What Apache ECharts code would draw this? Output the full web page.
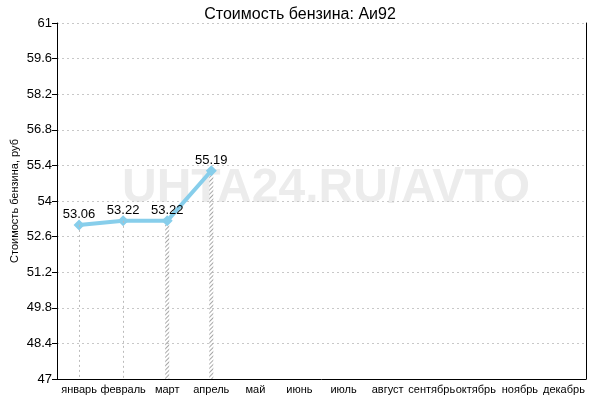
<!DOCTYPE html>
<html><head><meta charset="utf-8">
<script src="https://cdn.jsdelivr.net/npm/echarts@6/dist/echarts.min.js"></script>
<style>html,body{margin:0;padding:0;background:#fff}#c{width:600px;height:400px}</style>
</head><body><div id="c"></div>
<script>
const months = ['январь','февраль','март','апрель','май','июнь','июль','август','сентябрь','октябрь','ноябрь','декабрь'];
const prices = [53.06, 53.22, 53.22, 55.19, null, null, null, null, null, null, null, null];
const dottedDrops = [53.06, 53.22, null, null];      // months with thin dotted drop lines
const hatchedDrops = [null, null, 53.22, 55.19];     // months with hatched drop lines
const yMin = 47, yMax = 61, yStep = 1.4;
const titleText = 'Стоимость бензина: Аи92';
const yName = 'Стоимость бензина, руб';
const watermark = 'UHTA24.RU/AVTO';

const font = 'Arial, "Liberation Sans", sans-serif';
const chart = echarts.init(document.getElementById('c'), null, {renderer:'canvas'});
const dottedLines = dottedDrops.map((v,i)=> v==null?null:[{coord:[months[i], v]},{coord:[months[i], yMin]}]).filter(Boolean);
chart.setOption({
  animation:false,
  backgroundColor:'#fff',
  title:{text:titleText,left:'center',top:2,textStyle:{fontFamily:font,fontWeight:'normal',fontSize:16,color:'#000'}},
  graphic:[
    {type:'text',left:122,top:165,z:0,silent:true,
      style:{text:watermark,fontFamily:font,fontWeight:'bold',fontSize:48,fill:'#ececec'}},
    {type:'text',x:15,y:201,rotation:Math.PI/2,z:5,silent:true,
      style:{text:yName,fontFamily:font,fontSize:11,fill:'#000',align:'center',verticalAlign:'middle'}}
  ],
  grid:{left:57,right:14,top:23,bottom:21,containLabel:false,outerBoundsMode:'none'},
  xAxis:{type:'category',data:months,boundaryGap:true,
    axisLine:{lineStyle:{color:'#000',width:1}},axisTick:{show:false},
    axisLabel:{color:'#000',fontFamily:font,fontSize:11,interval:0,margin:5},
    splitLine:{show:false}},
  yAxis:[{type:'value',min:yMin,max:yMax,interval:yStep,
    axisLine:{show:true,lineStyle:{color:'#000'}},axisTick:{show:true,length:5,lineStyle:{color:'#000'}},
    axisLabel:{color:'#000',fontFamily:font,fontSize:13,margin:5,formatter:v=>String(Math.round(v*10)/10)},
    splitLine:{show:true,lineStyle:{color:'#c8c8c8',type:[2,3]}}},
   {type:'value',min:yMin,max:yMax,interval:yStep,position:'right',
    axisLine:{show:true,lineStyle:{color:'#000'}},axisTick:{show:false},axisLabel:{show:false},splitLine:{show:false}}],
  series:[
    {type:'bar',data:hatchedDrops,barWidth:4,silent:true,z:1,
      itemStyle:{color:'rgba(255,255,255,0)',decal:{symbol:'rect',symbolSize:1,color:'#a8a8a8',dashArrayX:[1,0],dashArrayY:[1,2],rotation:-Math.PI/4}}},
    {type:'line',data:prices,connectNulls:false,z:3,
      lineStyle:{color:'#87ceeb',width:4},itemStyle:{color:'#87ceeb'},
      symbol:'diamond',symbolSize:11,
      label:{show:true,position:'top',distance:-2,color:'#000',fontFamily:font,fontSize:13,formatter:p=>p.value.toFixed(2)},
      markLine:{silent:true,symbol:'none',label:{show:false},lineStyle:{color:'#bbb',type:[2,3],width:1},data:dottedLines}}
  ]
});
</script></body></html>
